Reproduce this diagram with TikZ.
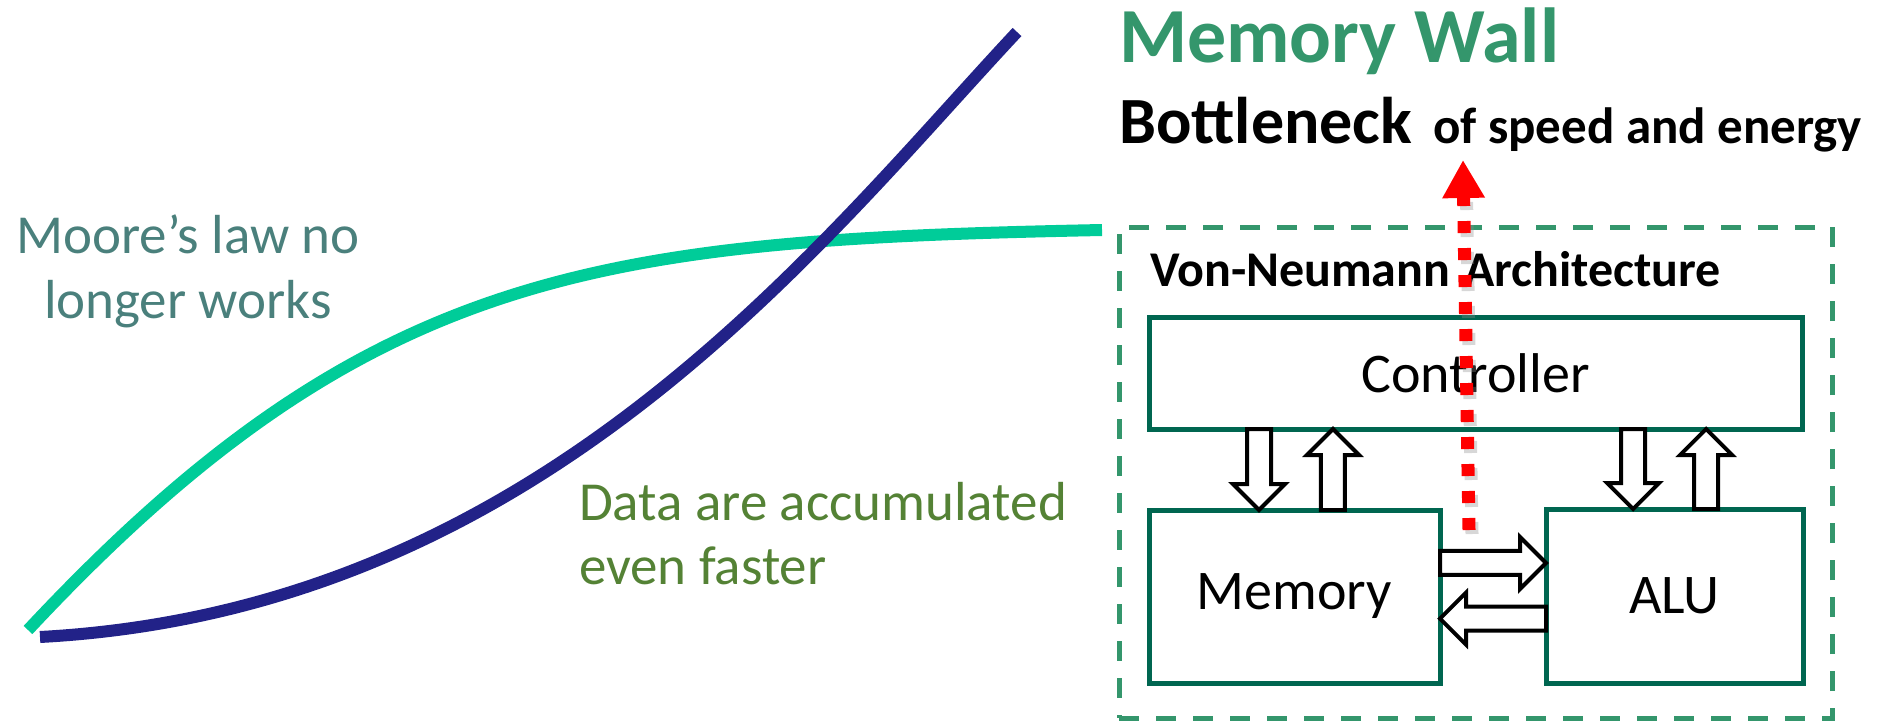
\documentclass[tikz,border=0pt]{standalone}
\usepackage{fontspec}
\setmainfont{Carlito}
\usetikzlibrary{arrows.meta,calc}
\definecolor{mint}{RGB}{0,204,153}
\definecolor{navyc}{RGB}{34,34,136}
\definecolor{mooretxt}{RGB}{74,128,124}
\definecolor{datatxt}{RGB}{84,130,53}
\definecolor{wallgreen}{RGB}{52,150,108}
\definecolor{boxgreen}{RGB}{0,102,80}
\tikzset{
  unitbox/.style={draw=boxgreen, line width=5pt, inner sep=0pt, outer sep=0pt,
    font=\fontsize{56}{64}\selectfont},
  blockarrow/.style={draw=black, fill=white, line width=4pt, line join=miter},
  curve/.style={line width=12pt},
  lbl/.style={inner sep=0pt, outer sep=0pt},
  redarrow/.style={draw=red, line width=13pt, dash pattern=on 12pt off 15pt},
}
\newcommand{\blkarrow}[2]{%
  \draw[blockarrow] let \p1=(#1), \p2=(#2),
     \n1={veclen(\x2-\x1,\y2-\y1)}, \n2={atan2(\y2-\y1,\x2-\x1)} in
     [shift={(\p1)}, rotate=\n2]
     (0,-12) -- (\n1-26,-12) -- (\n1-26,-26) -- (\n1,0) -- (\n1-26,26) -- (\n1-26,12) -- (0,12) -- cycle;}
\begin{document}
\begin{tikzpicture}[x=1pt,y=-1pt]
\useasboundingbox (0,0) rectangle (1884,723);
% curves
\draw[curve, mint] (28,630) .. controls (368,266) and (602,240) .. (1102,230);
\draw[curve, navyc] (40,637) .. controls (540,610) and (817,246) .. (1017,32);
% side labels
\node[lbl, anchor=base, text=mooretxt, font=\fontsize{55}{66}\selectfont] (moore1) at (188,253) {Moore’s law no};
\node[lbl, anchor=base, text=mooretxt, font=\fontsize{55}{66}\selectfont] (moore2) at (188,318) {longer works};
\node[lbl, anchor=base west, text=datatxt, font=\fontsize{55}{66}\selectfont] (data1) at (579,520) {Data are accumulated};
\node[lbl, anchor=base west, text=datatxt, font=\fontsize{55}{66}\selectfont] (data2) at (579,584) {even faster};
% titles
\node[lbl, anchor=base west, text=wallgreen, font=\fontsize{78}{90}\selectfont\bfseries] (wall) at (1119,62) {Memory Wall};
\node[lbl, anchor=base west, font=\fontsize{66}{78}\selectfont\bfseries] (bn) at (1119,143) {Bottleneck};
\node[lbl, anchor=base west, font=\fontsize{51}{60}\selectfont\bfseries] (ofs) at (1433,143) {of speed and energy};
% architecture frame
\node[draw=wallgreen, line width=5pt, dash pattern=on 20pt off 17pt, minimum width=713pt, minimum height=491pt, inner sep=0pt] (frame) at (1475.5,472.5) {};
\node[lbl, anchor=base west, font=\fontsize{50}{58}\selectfont\bfseries] (vn) at (1150,286) {Von-Neumann\hspace{14pt}Architecture};
\node[unitbox, minimum width=653pt, minimum height=112pt] (ctrl) at (1475.5,373) {Controller\hspace{16pt}};
\node[unitbox, minimum width=291pt, minimum height=173pt] (mem) at (1294.5,596.5) {Memory\hspace{10pt}};
\node[unitbox, minimum width=257pt, minimum height=174pt] (alu) at (1674.5,596) {ALU\hspace{18pt}};
% block arrows
\coordinate (m1) at ($(mem.north west)!0.378!(mem.north east)$);
\coordinate (m2) at ($(mem.north west)!0.632!(mem.north east)$);
\coordinate (a1) at ($(alu.north west)!0.339!(alu.north east)$);
\coordinate (a2) at ($(alu.north west)!0.623!(alu.north east)$);
\coordinate (h1) at ($(mem.north east)!0.306!(mem.south east)$);
\coordinate (h2) at ($(alu.north west)!0.63!(alu.south west)$);
\blkarrow{ctrl.south -| m1}{m1}
\blkarrow{m2}{ctrl.south -| m2}
\blkarrow{ctrl.south -| a1}{a1}
\blkarrow{a2}{ctrl.south -| a2}
\blkarrow{h1}{h1 -| alu.west}
\blkarrow{h2}{h2 -| mem.east}
% red bottleneck arrow
\coordinate (rs) at (1469,530);
\coordinate (rt) at (1463,160);
\coordinate (rb) at ($(rt)!38pt!(rs)$);
\draw[redarrow, draw=black!45, opacity=0.35] ([shift={(3,4)}]rs) -- ([shift={(3,4)}]rb);
\draw[redarrow, -{Triangle[length=38pt,width=40pt]}] (rs) -- (rt);
\end{tikzpicture}
\end{document}
